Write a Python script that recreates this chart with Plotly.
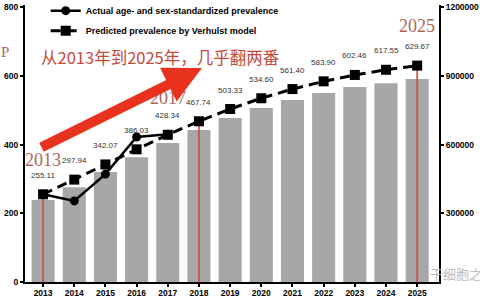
import plotly.graph_objects as go

years = ["2013", "2014", "2015", "2016", "2017", "2018", "2019",
         "2020", "2021", "2022", "2023", "2024", "2025"]
bar_values = [358000, 414000, 480000, 545000, 607000, 663000, 716000,
              759000, 794000, 825000, 851000, 868000, 886000]
predicted = [255.11, 297.94, 342.07, 386.03, 428.34, 467.74, 503.33,
             534.60, 561.40, 583.90, 602.46, 617.55, 629.67]
actual_years = ["2013", "2014", "2015", "2016", "2017"]
actual = [255.11, 236, 314, 422, 430]
highlight_years = ["2013", "2018", "2025"]
label_years = ["2013", "2017", "2025"]
left_ticks = [0, 200, 400, 600, 800]
right_ticks = [300000, 600000, 900000, 1200000]

fig = go.Figure()

fig.add_trace(go.Bar(
    x=years, y=bar_values, yaxis="y", width=0.74,
    marker=dict(color="#a7a7a7", line=dict(width=0)),
    showlegend=False, hoverinfo="skip"))

# red vertical guide lines
vx, vy = [], []
for yr in highlight_years:
    v = predicted[years.index(yr)]
    vx += [yr, yr, None]
    vy += [0, v, None]
fig.add_trace(go.Scatter(
    x=vx, y=vy, yaxis="y2", mode="lines",
    line=dict(color="rgba(200,80,60,0.85)", width=2),
    showlegend=False, hoverinfo="skip"))

fig.add_trace(go.Scatter(
    x=actual_years, y=actual, yaxis="y2", mode="lines+markers",
    name="Actual age- and sex-standardized prevalence", legendgroup="a",
    line=dict(color="black", width=2.5),
    marker=dict(symbol="circle", size=9, color="black")))

fig.add_trace(go.Scatter(
    x=years, y=predicted, yaxis="y2", mode="lines+markers",
    name="Predicted prevalence by Verhulst model", legendgroup="b",
    line=dict(color="black", width=3, dash="10px,6px"),
    marker=dict(symbol="square", size=10, color="black")))

annotations = []
for i, v in enumerate(predicted):
    annotations.append(dict(
        x=i, y=v, xref="x", yref="y2", text=f"{v:.2f}", showarrow=False,
        xanchor="center", yanchor="middle", yshift=19,
        font=dict(family="Arial", size=8, color="#333333")))

label_font = dict(family="Liberation Serif", size=18, color="#b06656")
for yr, ypos in zip(label_years, [354, 536, 745]):
    annotations.append(dict(
        x=years.index(yr), y=ypos, xref="x", yref="y2", text=yr,
        showarrow=False, xanchor="center", yanchor="middle", font=label_font))

annotations += [
    dict(x=-0.048, y=0.83, xref="paper", yref="paper", text="P", showarrow=False,
         xanchor="center", yanchor="middle",
         font=dict(family="Liberation Serif", size=15, color="#b06656")),
    dict(x=0.326, y=0.812, xref="paper", yref="paper",
         text="从2013年到2025年，几乎翻两番", showarrow=False,
         xanchor="center", yanchor="middle",
         font=dict(family="Noto Sans CJK SC", size=16.5, color="#c24a3a")),
    dict(x=0.4275, y=0.7726, xref="paper", yref="paper", ax=-162, ay=80,
         axref="pixel", ayref="pixel", text="", showarrow=True,
         arrowhead=2, arrowsize=0.75, arrowwidth=10, arrowcolor="#e8321e",
         standoff=0),
    dict(x=0.973, y=0.032, xref="paper", yref="paper", xanchor="left",
         yanchor="middle", text="干细胞之父", showarrow=False,
         font=dict(family="Noto Sans CJK SC", size=13, color="#bdbdbd")),
]

tick_font = dict(family="Arial", size=8.5, color="black", weight="bold")

fig.update_layout(
    width=480, height=300, autosize=False,
    margin=dict(l=25, r=41, t=5, b=18, autoexpand=False),
    paper_bgcolor="white", plot_bgcolor="white",
    xaxis=dict(type="category", range=[-0.58, 12.70], showline=True,
               linecolor="black", linewidth=2, ticks="outside", ticklen=3,
               tickwidth=2, tickcolor="black", tickfont=tick_font,
               ticklabelstandoff=-1,
               showgrid=False, zeroline=False),
    yaxis=dict(side="right", range=[0, 1209000], tickvals=right_ticks,
               tickformat="d", showline=True, linecolor="black", linewidth=2,
               ticks="outside", ticklen=3, tickwidth=2, tickcolor="black",
               tickfont=tick_font, showgrid=False, zeroline=False),
    yaxis2=dict(side="left", overlaying="y", range=[0, 806],
                tickvals=left_ticks, showline=True, linecolor="black",
                linewidth=2, ticks="outside", ticklen=3, tickwidth=2,
                tickcolor="black", tickfont=tick_font, showgrid=False,
                zeroline=False),
    legend=dict(x=0.05, y=1.032, xanchor="left", yanchor="top",
                bgcolor="rgba(0,0,0,0)",
                font=dict(family="Arial", size=9, color="black", weight="bold"),
                tracegroupgap=1, itemwidth=30),
    annotations=annotations,
)

fig.write_html(
    "out.html",
    config={"displayModeBar": False},
    post_script="document.body.style.margin='0';document.body.style.overflow='hidden';",
)
